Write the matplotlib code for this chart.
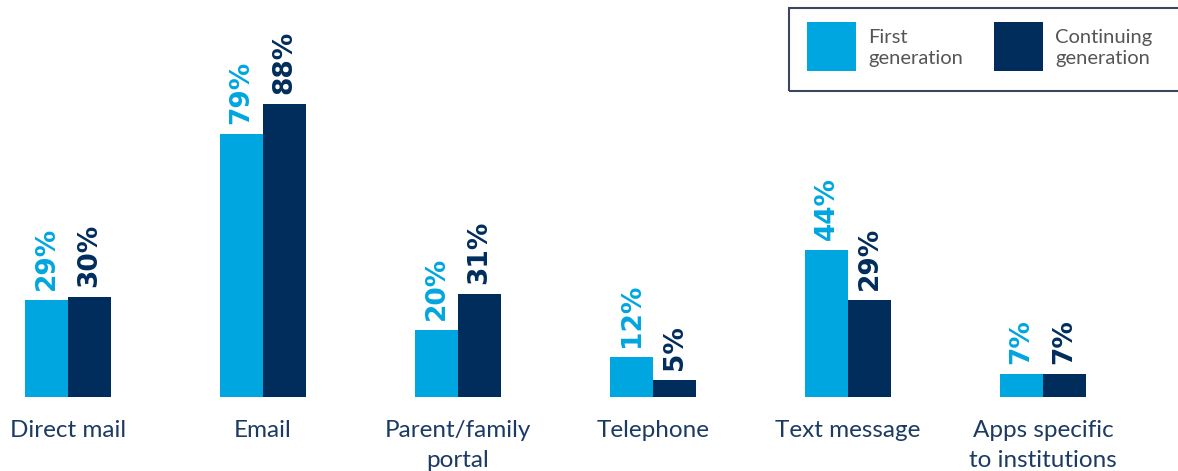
import matplotlib
matplotlib.use("Agg")
import matplotlib.pyplot as plt
from matplotlib.patches import Rectangle

categories = ["Direct mail", "Email", "Parent/family\nportal", "Telephone",
              "Text message", "Apps specific\nto institutions"]
first_gen = [29, 79, 20, 12, 44, 7]
continuing_gen = [30, 88, 31, 5, 29, 7]
series_names = ["First\ngeneration", "Continuing\ngeneration"]

LIGHT = "#00A6E0"
DARK = "#002D5C"
LABEL_NAVY = "#1C3B63"

W, H = 1178, 471
fig = plt.figure(figsize=(W / 100, H / 100), dpi=100)
ax = fig.add_axes([0, 0, 1, 1])

# pixel layout: group i centred at 68 + 195*i, baseline at y=397, 3.33 px per percent
px_per_unit = 3.33
x0, step, base = 68, 195, 397
ax.set_xlim(-x0 / step, (W - x0) / step)
ax.set_ylim(-(H - base) / px_per_unit, base / px_per_unit)
ax.axis("off")

bw = 43 / step
xs = list(range(len(categories)))
ax.bar([x - bw / 2 for x in xs], first_gen, width=bw, color=LIGHT, linewidth=0)
ax.bar([x + bw / 2 for x in xs], continuing_gen, width=bw, color=DARK, linewidth=0)

gap = 10 / px_per_unit
for x, v in zip(xs, first_gen):
    ax.text(x - bw / 2, v + gap, f"{v}%", rotation=90, ha="center", va="bottom",
            color=LIGHT, fontsize=19, fontweight="bold", family="DejaVu Sans")
for x, v in zip(xs, continuing_gen):
    ax.text(x + bw / 2, v + gap, f"{v}%", rotation=90, ha="center", va="bottom",
            color=DARK, fontsize=19, fontweight="bold", family="DejaVu Sans")

for x, c in zip(xs, categories):
    ax.text(x, -(420 - base) / px_per_unit, c, ha="center", va="top", color=LABEL_NAVY,
            fontsize=17.5, family=["Lato", "DejaVu Sans"], linespacing=1.52)

# legend box drawn in pixel coordinates
def fx(p):
    return p / W

def fy(p):
    return 1 - p / H

fig.patches.append(Rectangle((fx(789), fy(91)), fx(1178 - 789 + 10), (91 - 8) / H,
                             transform=fig.transFigure, fill=False,
                             edgecolor="#3A4660", linewidth=1.5))
for sx, col, name in [(807, LIGHT, series_names[0]), (994, DARK, series_names[1])]:
    fig.patches.append(Rectangle((fx(sx), fy(71)), 49 / W, 49 / H,
                                 transform=fig.transFigure, color=col, linewidth=0))
    fig.text(fx(sx + 61), fy(48), name, ha="left", va="center", color="#555555",
             fontsize=14.5, family=["Lato", "DejaVu Sans"], linespacing=1.25)

fig.savefig("out.png", dpi=100)
